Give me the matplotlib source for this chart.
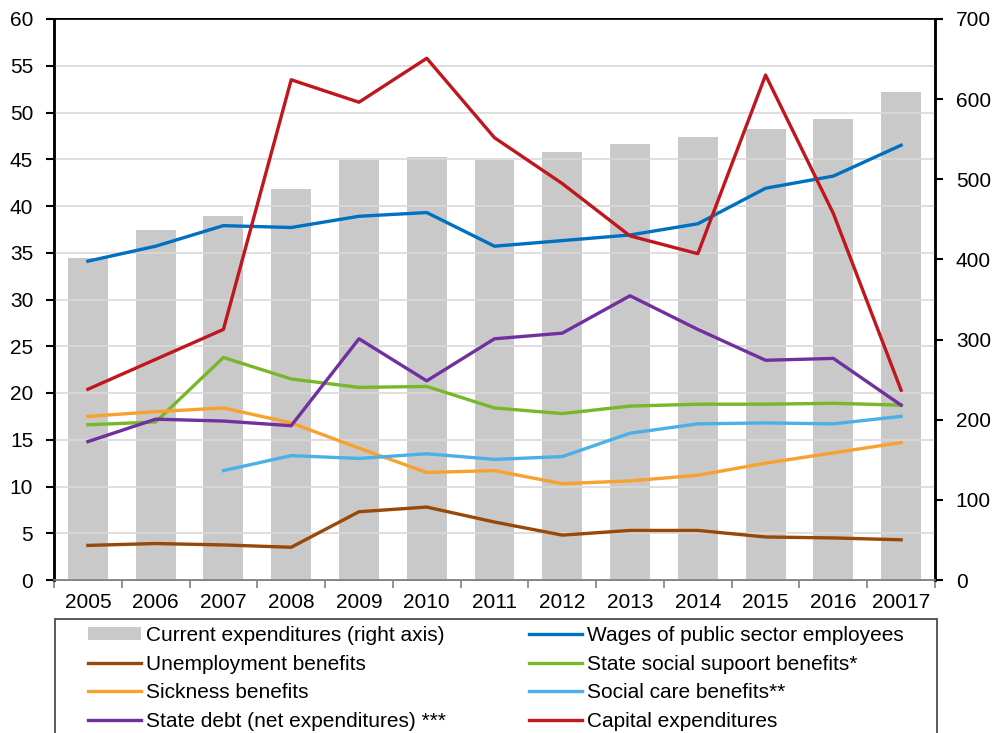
import numpy as np
import matplotlib
matplotlib.use("Agg")
import matplotlib.pyplot as plt
from matplotlib.patches import Patch, Rectangle
from matplotlib.lines import Line2D

plt.rcParams['font.family'] = ['Liberation Sans', 'DejaVu Sans']

years = ["2005", "2006", "2007", "2008", "2009", "2010", "2011",
         "2012", "2013", "2014", "2015", "2016", "20017"]

# right axis
current_exp = [402, 437, 454, 488, 524, 528, 524, 534, 544, 553, 563, 575, 609]

# left axis
wages = [34.1, 35.7, 37.9, 37.7, 38.9, 39.3, 35.7, 36.3, 36.9, 38.1, 41.9, 43.2, 46.5]
unemployment = [3.7, 3.9, 3.75, 3.5, 7.3, 7.8, 6.2, 4.8, 5.3, 5.3, 4.6, 4.5, 4.3]
social_support = [16.6, 16.9, 23.8, 21.5, 20.6, 20.7, 18.4, 17.8, 18.6, 18.8, 18.8, 18.9, 18.7]
sickness = [17.5, 18.0, 18.4, 16.8, 14.1, 11.5, 11.7, 10.3, 10.6, 11.2, 12.5, 13.6, 14.7]
social_care = [np.nan, np.nan, 11.7, 13.3, 13.0, 13.5, 12.9, 13.2, 15.7, 16.7, 16.8, 16.7, 17.5]
state_debt = [14.8, 17.2, 17.0, 16.5, 25.8, 21.3, 25.8, 26.4, 30.4, 26.8, 23.5, 23.7, 18.7]
capital = [20.4, 23.6, 26.8, 53.5, 51.1, 55.8, 47.3, 42.4, 36.8, 34.9, 54.0, 39.2, 20.3]

c_wages = "#0070C0"
c_unemp = "#984807"
c_support = "#77B82A"
c_sick = "#F9A12E"
c_care = "#4AB0E8"
c_debt = "#7030A0"
c_cap = "#C0161E"
c_bar = "#C9C9C9"

W, H = 1005, 733
fig = plt.figure(figsize=(W/100, H/100), dpi=100)
ax = fig.add_axes([54/W, 1-580/H, (935-54)/W, (580-19)/H])
ax2 = ax.twinx()

x = np.arange(len(years))
ax2.bar(x, current_exp, width=0.59, color=c_bar, zorder=1)
ax2.set_ylim(0, 700)
ax2.set_yticks(range(0, 701, 100))

# lines above the bars
ax.set_zorder(ax2.get_zorder() + 1)
ax.patch.set_visible(False)

lw = 2.4
ax.plot(x, wages, color=c_wages, lw=lw)
ax.plot(x, unemployment, color=c_unemp, lw=lw)
ax.plot(x, social_support, color=c_support, lw=lw)
ax.plot(x, sickness, color=c_sick, lw=lw)
ax.plot(x, social_care, color=c_care, lw=lw)
ax.plot(x, state_debt, color=c_debt, lw=lw)
ax.plot(x, capital, color=c_cap, lw=lw)

ax.set_ylim(0, 60)
ax.set_yticks(range(0, 61, 5))
ax.set_xlim(-0.5, len(years) - 0.5)
ax.set_xticks(x)
ax.set_xticklabels(years)
ax.set_xticks(np.arange(-0.5, len(years)), minor=True)
ax.tick_params(axis='x', which='major', length=0, labelsize=15, pad=9)
ax.tick_params(axis='x', which='minor', length=6, width=1.2, color="#808080", direction='out')
ax.tick_params(axis='y', length=6, width=1.5, labelsize=15, pad=9, direction='out')
ax2.tick_params(axis='y', length=6, width=1.5, labelsize=15, pad=9, direction='out')

ax.yaxis.grid(True, color="#D9D9D9", lw=1.2)
for a in (ax, ax2):
    a.spines['left'].set_linewidth(1.8)
    a.spines['right'].set_linewidth(1.8)
    a.spines['top'].set_linewidth(1.2)
    a.spines['bottom'].set_color("#808080")
    a.spines['bottom'].set_linewidth(1.2)

col1 = [
    Patch(facecolor=c_bar, edgecolor='none', label="Current expenditures (right axis)"),
    Line2D([], [], color=c_unemp, lw=lw, label="Unemployment benefits"),
    Line2D([], [], color=c_sick, lw=lw, label="Sickness benefits"),
    Line2D([], [], color=c_debt, lw=lw, label="State debt (net expenditures) ***"),
]
col2 = [
    Line2D([], [], color=c_wages, lw=lw, label="Wages of public sector employees"),
    Line2D([], [], color=c_support, lw=lw, label="State social supoort benefits*"),
    Line2D([], [], color=c_care, lw=lw, label="Social care benefits**"),
    Line2D([], [], color=c_cap, lw=lw, label="Capital expenditures"),
]
leg_kw = dict(loc='upper left', fontsize=15, frameon=False, handlelength=2.55,
              handleheight=0.6, handletextpad=0.25, labelspacing=0.46,
              borderpad=0, borderaxespad=0)
leg1 = fig.legend(handles=col1, bbox_to_anchor=(88/W, 1-626/H), **leg_kw)
leg2 = fig.legend(handles=col2, bbox_to_anchor=(529/W, 1-626/H), **leg_kw)

# legend frame, running off the bottom edge
fig.patches.append(Rectangle((55/W, -0.05), (937-55)/W, 0.05 + 1-619/H,
                             transform=fig.transFigure, fill=False,
                             edgecolor="#595959", lw=1.4))

fig.savefig("out.png", dpi=100)
